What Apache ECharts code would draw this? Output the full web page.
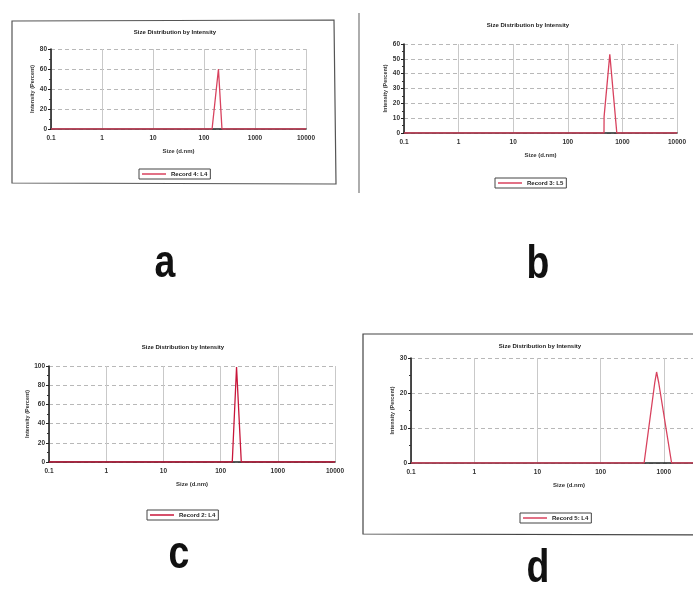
<!DOCTYPE html>
<html>
<head>
<meta charset="utf-8">
<script src="https://cdn.jsdelivr.net/npm/echarts@6/dist/echarts.min.js"></script>
<style>
html,body{margin:0;padding:0;background:#fff;overflow:hidden;}
#chart{width:693px;height:591px;}
</style>
</head>
<body>
<div id="chart"></div>
<script>
// ---- data ----
const chartTitle = 'Size Distribution by Intensity';
const xAxisName = 'Size (d.nm)';
const yAxisName = 'Intensity (Percent)';
const panelLetters = ['a', 'b', 'c', 'd'];
const seriesNames = ['Record 4: L4', 'Record 3: L5', 'Record 2: L4', 'Record 5: L4'];

const sizeA = [0.1, 144, 192, 225, 10000];
const intensityA = [0, 0, 60, 0, 0];

const sizeB = [0.1, 460, 462, 588, 790, 10000];
const intensityB = [0, 0, 11, 53, 0, 0];

const sizeC = [0.1, 160, 190, 230, 10000];
const intensityC = [0, 0, 99, 0, 0];

const sizeD = [0.1, 488, 720, 769, 830, 1328, 10000];
const intensityD = [0, 0, 23, 26, 23, 0, 0];

const yMax = [80, 60, 100, 30];
const yStep = [20, 10, 20, 10];

// ---- layout ----
const W = 693, H = 591;
const grids = [
  {left: 51, width: 255, top: 49, height: 80, outerBoundsMode: 'none'},
  {left: 404, width: 273, top: 44, height: 89, outerBoundsMode: 'none'},
  {left: 49, width: 286, top: 366, height: 96, outerBoundsMode: 'none'},
  {left: 411, width: 316, top: 358, height: 105, outerBoundsMode: 'none'}
];
const datasets = [[sizeA, intensityA], [sizeB, intensityB], [sizeC, intensityC], [sizeD, intensityD]];
const lineColors = ['#d8425e', '#d8425e', '#c8163a', '#d8425e'];
const titlePos = [[175, 32], [528, 25], [183, 347], [540, 346]];
const legendPos = [[139, 169], [495, 178], [147, 510], [520, 513]];
const letterPos = [[165, 264], [538, 265], [179, 555], [538, 569]];

const FONT = 'Liberation Sans, Arial, sans-serif';

function fmtLog(v) { return String(parseFloat(Number(v).toPrecision(3))); }

const xAxes = grids.map((g, i) => ({
  type: 'log', logBase: 10, min: 0.1, max: 10000, gridIndex: i,
  name: xAxisName, nameLocation: 'middle', nameGap: 19,
  nameTextStyle: {fontSize: 6, fontWeight: 'bold', color: '#333', fontFamily: FONT},
  axisLine: {show: true, onZero: false, lineStyle: {color: '#222', width: 1.6}},
  axisTick: {show: false},
  axisLabel: {fontSize: 6.5, fontWeight: 'bold', color: '#333', margin: 6, formatter: fmtLog, fontFamily: FONT},
  splitLine: {show: true, lineStyle: {color: '#c9c9c9', width: 1}},
  minorTick: {show: false}, minorSplitLine: {show: false}
}));

const yAxes = grids.map((g, i) => ({
  type: 'value', min: 0, max: yMax[i], interval: yStep[i], gridIndex: i,
  name: yAxisName, nameLocation: 'middle', nameGap: 15, nameRotate: 90,
  nameTextStyle: {fontSize: 5.5, fontWeight: 'bold', color: '#333', fontFamily: FONT},
  axisLine: {show: true, lineStyle: {color: '#222', width: 1.6}},
  axisTick: {show: true, length: 3, lineStyle: {color: '#222'}},
  minorTick: {show: true, splitNumber: 2, length: 2, lineStyle: {color: '#333'}},
  axisLabel: {fontSize: 6.5, fontWeight: 'bold', color: '#333', margin: 4, fontFamily: FONT},
  splitLine: {show: true, lineStyle: {color: '#b8b8b8', width: 1, type: [4, 3]}}
}));

const series = datasets.map((d, i) => ({
  name: seriesNames[i], type: 'line', xAxisIndex: i, yAxisIndex: i,
  data: d[0].map((x, k) => [x, d[1][k]]),
  symbol: 'none', smooth: false,
  lineStyle: {color: lineColors[i], width: 1.3},
  itemStyle: {color: lineColors[i]},
  z: 3
}));

const legends = legendPos.map((p, i) => ({
  data: [seriesNames[i]], left: p[0], top: p[1], orient: 'horizontal',
  icon: 'rect', itemWidth: 24, itemHeight: 1.5, itemGap: 4,
  padding: [2, 3, 2, 3], borderColor: '#444', borderWidth: 1, backgroundColor: '#fff',
  textStyle: {fontSize: 6, fontWeight: 'bold', color: '#222', fontFamily: FONT},
  selectedMode: false
}));

const graphics = [];
// panel frames
graphics.push({type: 'polygon', shape: {points: [[12, 21], [334, 20], [336, 184], [12, 183]]},
  style: {fill: 'none', stroke: '#555', lineWidth: 1.2}, z: 0});
graphics.push({type: 'line', shape: {x1: 359, y1: 13, x2: 359, y2: 193},
  style: {stroke: '#777', lineWidth: 1.2}, z: 0});
graphics.push({type: 'polyline', shape: {points: [[720, 334], [363, 334], [363, 534], [720, 535]]},
  style: {fill: 'none', stroke: '#444', lineWidth: 1.2}, z: 0});
// titles
titlePos.forEach(p => graphics.push({type: 'text', x: p[0], y: p[1],
  style: {text: chartTitle, fill: '#222', font: 'bold 6px ' + FONT, align: 'center', verticalAlign: 'middle'}, z: 5}));
// panel letters
letterPos.forEach((p, i) => graphics.push({type: 'text', x: p[0], y: p[1], scaleX: 0.72, scaleY: 0.9,
  style: {text: panelLetters[i], fill: '#111', font: 'bold 52px "Liberation Sans", sans-serif',
    align: 'center', verticalAlign: 'middle', shadowBlur: 5, shadowColor: 'rgba(0,0,0,0.55)', shadowOffsetX: 1, shadowOffsetY: 2}, z: 5}));

const chart = echarts.init(document.getElementById('chart'), null, {renderer: 'canvas', width: W, height: H});
chart.setOption({
  backgroundColor: '#ffffff',
  animation: false,
  grid: grids,
  xAxis: xAxes,
  yAxis: yAxes,
  legend: legends,
  series: series,
  graphic: graphics
});
</script>
</body>
</html>
